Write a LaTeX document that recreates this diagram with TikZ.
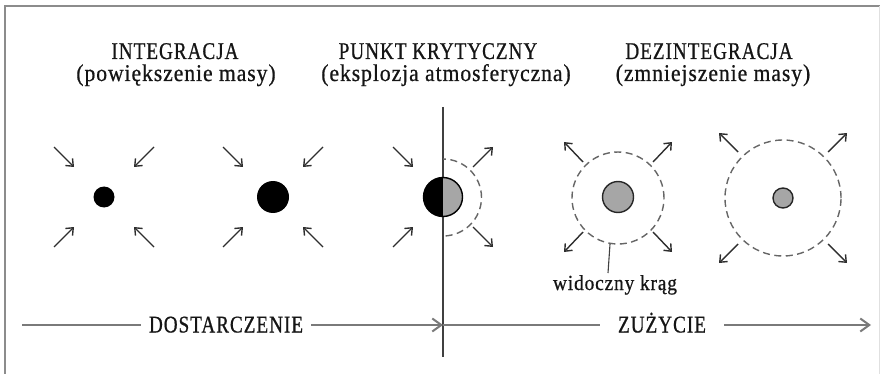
\documentclass[tikz,border=0pt]{standalone}
\usepackage{fontspec}
\setmainfont{Liberation Serif}
\newfontfamily\capsf[FakeStretch=0.8,LetterSpace=4,FakeBold=0.7]{Liberation Serif}
\newfontfamily\lowf[FakeStretch=0.9,LetterSpace=4,FakeBold=0.7]{Liberation Serif}
\usetikzlibrary{arrows.meta}
\definecolor{framec}{HTML}{8C8C8C}
\definecolor{arrc}{HTML}{2E2E2E}
\definecolor{linec}{HTML}{7A7A7A}
\definecolor{dashc}{HTML}{666666}
\definecolor{dotgray}{HTML}{A6A6A6}
\definecolor{txt}{HTML}{151515}
\tikzset{
  capt/.style={font=\capsf\fontsize{24}{28}\selectfont, text=txt, inner sep=0pt, anchor=base},
  subt/.style={font=\lowf\fontsize{24}{28}\selectfont, text=txt, inner sep=0pt, anchor=base},
  sarr/.style={draw=arrc, line width=1.4pt, -{Straight Barb[length=6pt,width=10pt]}},
  marr/.style={draw=linec, line width=2pt, -{Straight Barb[length=9pt,width=13pt]}},
  mline/.style={draw=linec, line width=2pt},
  blackdot/.style={circle, fill=black, inner sep=0pt},
  graydot/.style={circle, fill=dotgray, draw=black!85, line width=1.4pt, inner sep=0pt},
  dashcirc/.style={draw=dashc, line width=1.4pt, dash pattern=on 7pt off 4.5pt},
  botlab/.style={font=\capsf\fontsize{24}{28}\selectfont, text=txt, text height=15pt, text depth=0pt}
}
\begin{document}
\begin{tikzpicture}[x=1pt,y=-1pt]
\useasboundingbox (0,0) rectangle (880,374);
% frame
\draw[framec, line width=2pt] (5,374) -- (5,6) -- (880,6);
\draw[black!12, line width=1pt] (879,6) -- (879,374);

% titles
\node[capt] (t1) at (175,59) {INTEGRACJA};
\node[subt] (s1) at (176,81) {(powiększenie masy)};
\node[capt] (t2) at (438,59) {PUNKT KRYTYCZNY};
\node[subt] (s2) at (446,81) {(eksplozja atmosferyczna)};
\node[capt] (t3) at (709,59) {DEZINTEGRACJA};
\node[subt] (s3) at (713,81) {(zmniejszenie masy)};

% divider
\coordinate (vtop) at (443,107);
\coordinate (vbot) at (443,357);
\draw[draw=black!75, line width=1.2pt] (vtop) -- (vbot);

% dot 1
\node[blackdot, minimum size=21pt] (d1) at (104,197) {};
\foreach \sx/\sy in {-1/-1,1/-1,-1/1,1/1}
  \draw[sarr] ([shift={(50*\sx,50*\sy)}]d1.center) -- ([shift={(30*\sx,30*\sy)}]d1.center);

% dot 2
\node[blackdot, minimum size=32pt] (d2) at (273,197) {};
\foreach \sx/\sy in {-1/-1,1/-1,-1/1,1/1}
  \draw[sarr] ([shift={(50*\sx,50*\sy)}]d2.center) -- ([shift={(30*\sx,30*\sy)}]d2.center);

% dot 3 (critical point)
\begin{scope}
  \clip (443,100) rectangle (520,300);
  \draw[dashcirc] (443,197.5) circle[radius=38.5pt];
\end{scope}
\node[circle, minimum size=39pt, inner sep=0pt, draw=black, line width=1.4pt, fill=dotgray,
  path picture={\fill[black] (path picture bounding box.north west) rectangle (path picture bounding box.south);}] (d3) at (443,197) {};
\foreach \sy in {-1,1}
  \draw[sarr] ([shift={(-50,50*\sy)}]d3.center) -- ([shift={(-30,30*\sy)}]d3.center);
\foreach \sy in {-1,1}
  \draw[sarr] ([shift={(30,30*\sy)}]d3.center) -- ([shift={(50,50*\sy)}]d3.center);

% circle 4
\node[graydot, minimum size=31pt] (d4) at (618,197) {};
\draw[dashcirc] (618,198) circle[radius=46pt];
\foreach \sx/\sy in {-1/-1,1/-1,-1/1,1/1}
  \draw[sarr] ([shift={(35*\sx,35*\sy)}]d4.center) -- ([shift={(54*\sx,55*\sy)}]d4.center);

% label
\node[font=\lowf\fontsize{21.5}{25}\selectfont, text=txt, inner sep=0pt, anchor=base] (lab) at (615,290) {widoczny krąg};
\coordinate (labfrom) at (610,244);
\coordinate (labto) at (608,273);
\draw[draw=black!75, line width=1.1pt] (labfrom) -- (labto);

% circle 5
\node[graydot, minimum size=20pt] (d5) at (783,198) {};
\draw[dashcirc] (783,198) circle[radius=58pt];
\foreach \sx/\sy in {-1/-1,1/-1,-1/1,1/1}
  \draw[sarr] ([shift={(45*\sx,46*\sy)}]d5.center) -- ([shift={(64*\sx,65*\sy)}]d5.center);

% bottom arrow
\coordinate (hstart) at (22,325);
\coordinate (cross) at (443,325);
\coordinate (hend) at (871,325);
\node[botlab, inner xsep=8pt] (dost) at (226,325) {DOSTARCZENIE};
\node[botlab, inner xsep=18pt] (zuz) at (662,325) {ZUŻYCIE};
\draw[mline] (hstart) -- (dost.west);
\draw[marr] (dost.east) -- (cross);
\draw[mline] (cross) -- (zuz.west);
\draw[marr] (zuz.east) -- (hend);
\end{tikzpicture}
\end{document}
